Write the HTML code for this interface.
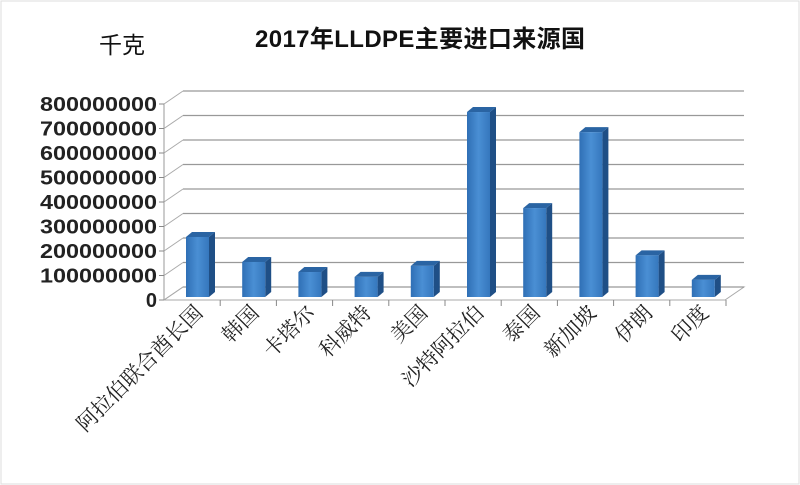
<!DOCTYPE html>
<html><head><meta charset="utf-8"><style>
html,body{margin:0;padding:0;background:#fff;width:800px;height:485px;overflow:hidden}
svg{display:block}
</style></head><body>
<svg id="chart" width="800" height="485" xmlns="http://www.w3.org/2000/svg">
<defs>
<linearGradient id="gf" x1="0" x2="1" y1="0" y2="0"><stop offset="0" stop-color="#2f6fb5"/><stop offset="0.5" stop-color="#4a8fd4"/><stop offset="1" stop-color="#3577bd"/></linearGradient>
</defs>
<rect x="1" y="1" width="798" height="483" fill="#fff" stroke="#ddd"/>
<text x="420" y="47" text-anchor="middle" textLength="330" font-family="Liberation Sans, Noto Sans CJK SC, sans-serif" font-size="24" font-weight="bold" fill="#111">2017年LLDPE主要进口来源国</text>
<text x="122" y="53" text-anchor="middle" font-family="Liberation Sans, Noto Sans CJK SC, sans-serif" font-size="23" fill="#111">千克</text>
<g id="grid"></g><g id="bars"></g><g id="labels"></g>
</svg>
<script>
const categories=["阿拉伯联合酋长国","韩国","卡塔尔","科威特","美国","沙特阿拉伯","泰国","新加坡","伊朗","印度"];
const values=[245000000,143000000,102000000,82000000,127000000,755000000,363000000,673000000,170000000,70000000];
const yTicks=[0,100000000,200000000,300000000,400000000,500000000,600000000,700000000,800000000];
const NS="http://www.w3.org/2000/svg";
const y0=300,pxPer=24.5/1e8,dx=19,dy=13,xL=164,xR=725;
function y(v){return y0-v*pxPer;}
function xc(i){return 198+i*56.2;}
function mk(t,a,p){const e=document.createElementNS(NS,t);for(const k in a)e.setAttribute(k,a[k]);p.appendChild(e);return e;}
const grid=document.getElementById('grid'),bars=document.getElementById('bars'),labels=document.getElementById('labels');
let fl=mk('polygon',{points:`${xL},${y0} ${xR},${y0} ${xR+dx},${y0-dy} ${xL+dx},${y0-dy}`,fill:'none',stroke:'#aaa'},grid);


mk('line',{x1:xL,y1:y0,x2:xL,y2:y(800000000),stroke:'#999'},grid);
yTicks.forEach(t=>{
  const g=mk('line',{x1:xL+dx,y1:y(t)-dy,x2:xR+dx,y2:y(t)-dy,stroke:'#999','stroke-width':1.3},grid);
  
  
  mk('line',{x1:xL,y1:y(t),x2:xL+dx,y2:y(t)-dy,stroke:'#aaa'},grid);
  mk('line',{x1:xL-5,y1:y(t),x2:xL,y2:y(t),stroke:'#888'},grid);
  const s=String(t);
  const a={x:157,y:y(t)+7,'text-anchor':'end','font-family':'Liberation Sans, sans-serif','font-size':20,'font-weight':'bold',fill:'#222'};
  if(s.length>1){a.textLength=s.length*13;a.lengthAdjust='spacingAndGlyphs';}
  const tx=mk('text',a,labels);
  tx.textContent=s;
  
  
});
categories.forEach((c,i)=>{
  const x=xc(i)-12,w=23,d=6,top=y(values[i])-3,bot=297;
  const g=mk('g',{},bars);
  
  
  mk('polygon',{points:`${x+w},${top} ${x+w+d},${top-5} ${x+w+d},${bot-5} ${x+w},${bot}`,fill:'#1f4f86'},g);
  mk('polygon',{points:`${x},${top} ${x+d},${top-5} ${x+w+d},${top-5} ${x+w},${top}`,fill:'#2a64a3'},g);
  mk('rect',{x:x,y:top,width:w,height:bot-top,fill:'url(#gf)'},g);
  mk('line',{x1:xL+(i+1)*56.2,y1:y0,x2:xL+(i+1)*56.2,y2:y0+6,stroke:'#888'},grid);
  const lx=xc(i)+6,ly=314;
  const t=mk('text',{x:lx,y:ly,'text-anchor':'end','font-family':'Liberation Serif, Noto Serif CJK SC, serif','font-size':21,fill:'#222',transform:`rotate(-45 ${lx} ${ly})`},labels);
  t.textContent=c;
  
  
});
</script>
</body></html>
